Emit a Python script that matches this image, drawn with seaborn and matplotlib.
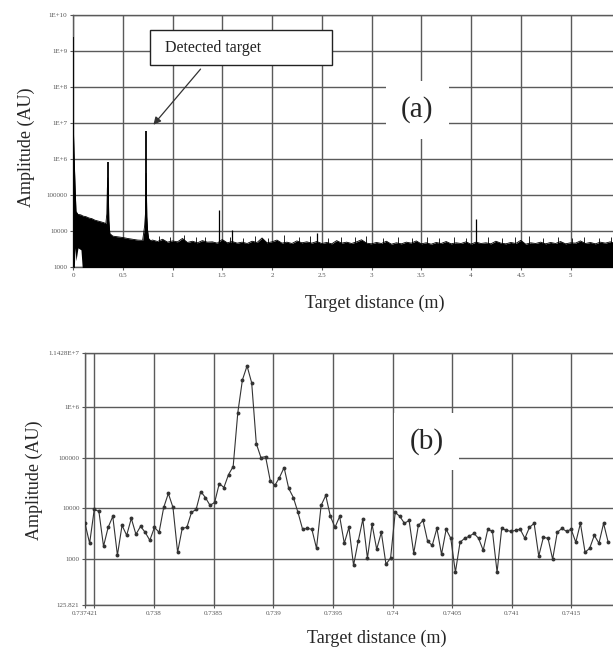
import numpy as np
import pandas as pd
import seaborn as sns
import matplotlib.pyplot as plt
from matplotlib.ticker import FixedLocator, FixedFormatter, NullLocator
from matplotlib.patches import Rectangle

# ---- panel (a): full range spectrum (upper envelope of the dense trace) ----
near_dist = [0.0, 0.005, 0.01, 0.02, 0.03, 0.05, 0.08, 0.1, 0.13, 0.16,
             0.19, 0.22, 0.25, 0.28, 0.31, 0.33, 0.34, 0.345, 0.35, 0.355,
             0.36, 0.37, 0.4, 0.45, 0.5, 0.55, 0.6, 0.65, 0.7, 0.72,
             0.728, 0.732, 0.735, 0.738, 0.742, 0.75, 0.76, 0.78]
near_amp = [1.2e7, 5e6, 1.5e6, 2e5, 3.5e4, 2.9e4, 2.8e4, 2.6e4, 2.5e4, 2.3e4,
            2.2e4, 2.0e4, 1.9e4, 1.8e4, 1.7e4, 1.6e4, 3e4, 1.5e5, 3e5, 1.2e5,
            2e4, 8500, 7200, 6900, 6600, 6200, 5900, 5600, 5500, 1.4e4,
            3e4, 1.5e5, 4e5, 1.2e5, 2.5e4, 1e4, 6200, 5400]
near_floor = [500, 500, 500, 3400, 1500, 3400, 3000, 500, 500, 500,
              500, 500, 500, 500, 500, 500, 500, 500, 500, 500,
              500, 500, 500, 500, 500, 500, 500, 500, 500, 500,
              500, 500, 500, 500, 500, 500, 500, 500]
far_start = 0.80
far_step = 0.05
far_amp = [5600, 5100, 5900, 4900, 5300, 5000, 6200, 4800, 5200, 4700,
           5400, 4900, 5000, 4600, 5800, 4700, 5100, 4600, 4900, 4500,
           5200, 4800, 6400, 4700, 5000, 5600, 4600, 4900, 4500, 5300,
           4700, 5000, 4600, 5100, 4500, 4800, 4400, 5400, 4600, 4900,
           4500, 5000, 5700, 4600, 4400, 4800, 4500, 5200, 4300, 4700,
           4400, 4900, 4600, 5300, 4400, 4700, 4300, 4800, 4500, 5100,
           4400, 4700, 4500, 5000, 4300, 4900, 4500, 4700, 4400, 5200,
           4600, 4400, 4800, 4500, 5500, 4300, 4700, 4500, 4900, 4400,
           4800, 4500, 5100, 4400, 4700, 4600, 5300, 4500, 4800, 4400,
           4900, 4600, 5000, 4500, 4700, 4400, 4800]
far_floor = 500
# strong peaks (0 m, 0.35 m, detected target) then smaller isolated spikes
spike_dist = [0.0, 0.35, 0.735, 1.47, 1.60, 2.45, 4.05]
spike_amp = [2.5e9, 8.3e5, 6.0e6, 3.85e4, 1.07e4, 8800, 2.15e4]
# fine "grass" on top of the noise floor
grass_dist = [0.86, 0.97, 1.12, 1.24, 1.33, 1.58, 1.71, 1.83, 1.96, 2.12,
              2.27, 2.38, 2.56, 2.69, 2.83, 2.94, 3.12, 3.27, 3.41, 3.56,
              3.68, 3.83, 3.95, 4.17, 4.31, 4.44, 4.58, 4.72, 4.87, 5.02,
              5.14, 5.29, 5.41]
grass_amp = [7200, 6800, 7500, 6600, 7000, 6900, 6400, 7300, 6500, 7800,
             6700, 7100, 6300, 6900, 6600, 7400, 6200, 6800, 6500, 7000,
             6300, 6700, 6400, 6900, 6200, 6600, 7100, 6400, 6800, 6300,
             7000, 6500, 6700]

a_xticks = [0, 0.5, 1, 1.5, 2, 2.5, 3, 3.5, 4, 4.5, 5, 5.5, 6]
a_xlabels = ["0", "0.5", "1", "1.5", "2", "2.5", "3", "3.5", "4", "4.5", "5", "", ""]
a_yticks = [1e3, 1e4, 1e5, 1e6, 1e7, 1e8, 1e9, 1e10]
a_ylabels = ["1000", "10000", "100000", "1E+6", "1E+7", "1E+8", "1E+9", "1E+10"]

# ---- panel (b): zoom around the detected target ----
b_start = 0.737421
b_step = 3.883e-5
b_amp = [5080, 2060, 9560, 8740, 1800, 4240, 6970, 1200, 4640, 2960,
         6370, 3090, 4440, 3380, 2360, 4240, 3380, 10470, 19700, 10470,
         1370, 4050, 4240, 8350, 9560, 21500, 16400, 11500, 13100, 30900,
         25800, 46400, 66600, 762000, 3380000, 6370000, 2960000, 188000, 100000, 104700,
         35400, 28300, 40500, 63700, 24700, 16400, 8350, 3880, 4050, 3880,
         1640, 11500, 18000, 6970, 4240, 6970, 2060, 4240, 760, 2250,
         6090, 1050, 4860, 1570, 3380, 800, 1050, 8350, 6970, 5080,
         5820, 1310, 4640, 5820, 2250, 1880, 4050, 1250, 3880, 2580,
         556, 2160, 2580, 2830, 3230, 2580, 1500, 3880, 3540, 556,
         4050, 3700, 3540, 3700, 3880, 2580, 4240, 5080, 1150, 2700,
         2580, 1000, 3380, 4050, 3540, 3880, 2160, 5080, 1370, 1640,
         2960, 2060, 5080, 2160]
b_xticks = [0.737421, 0.7375, 0.738, 0.7385, 0.739, 0.7395, 0.74, 0.7405, 0.741, 0.7415, 0.742]
b_xlabels = ["0.737421", "", "0.738", "0.7385", "0.739", "0.7395", "0.74", "0.7405", "0.741", "0.7415", ""]
b_yticks = [125.821, 1000, 10000, 100000, 1e6, 1.1428e7]
b_ylabels = ["125.821", "1000", "10000", "100000", "1E+6", "1.1428E+7"]

sns.set_theme(style="white")
plt.rcParams['font.family'] = ['Liberation Serif', 'DejaVu Serif']

far_dist = far_start + far_step * np.arange(len(far_amp))
spec = pd.DataFrame({
    "dist": np.concatenate([near_dist, far_dist]),
    "amp": np.concatenate([near_amp, far_amp]),
    "floor": np.concatenate([near_floor, np.full(len(far_amp), far_floor)]),
})
zoom = pd.DataFrame({"dist": b_start + b_step * np.arange(len(b_amp)), "amp": b_amp})

W, H = 613, 652
fig = plt.figure(figsize=(W / 100, H / 100), dpi=100)
fig.patch.set_facecolor("white")
ax_a = fig.add_axes([73 / W, 1 - 267 / H, 597 / W, 252 / H])
ax_b = fig.add_axes([85 / W, 1 - 605 / H, 546 / W, 252 / H])

grid_kw = dict(color="#5a5a5a", lw=1.0)

# panel (a)
ax_a.fill_between(spec["dist"], spec["floor"], spec["amp"], color="black", lw=0, zorder=3)
sns.lineplot(data=spec, x="dist", y="amp", ax=ax_a, color="black", lw=0.6, zorder=3)
ax_a.vlines(spike_dist[:3], 500, spike_amp[:3], color="black", lw=1.3, zorder=3)
ax_a.vlines(spike_dist[3:], 500, spike_amp[3:], color="black", lw=0.9, zorder=3)
ax_a.vlines(grass_dist, 500, grass_amp, color="black", lw=0.6, zorder=3)
ax_a.set_yscale("log")
ax_a.set_xlim(0, 6)
ax_a.set_ylim(1e3, 1e10)
ax_a.xaxis.set_major_locator(FixedLocator(a_xticks))
ax_a.xaxis.set_major_formatter(FixedFormatter(a_xlabels))
ax_a.yaxis.set_major_locator(FixedLocator(a_yticks))
ax_a.yaxis.set_major_formatter(FixedFormatter(a_ylabels))

# panel (b)
sns.lineplot(data=zoom, x="dist", y="amp", ax=ax_b, color="#333333", lw=0.8,
             marker="o", markersize=2.8, markeredgewidth=0, zorder=3)
ax_b.set_yscale("log")
ax_b.set_xlim(0.737421, 0.742)
ax_b.set_ylim(125.821, 1.1428e7)
ax_b.xaxis.set_major_locator(FixedLocator(b_xticks))
ax_b.xaxis.set_major_formatter(FixedFormatter(b_xlabels))
ax_b.yaxis.set_major_locator(FixedLocator(b_yticks))
ax_b.yaxis.set_major_formatter(FixedFormatter(b_ylabels))

for ax in (ax_a, ax_b):
    ax.set_xlabel("")
    ax.set_ylabel("")
    ax.xaxis.set_minor_locator(NullLocator())
    ax.yaxis.set_minor_locator(NullLocator())
    ax.grid(True, which="major", **grid_kw)
    ax.set_axisbelow(True)
    for s in ax.spines.values():
        s.set_color("#5a5a5a")
        s.set_linewidth(1.0)
    ax.spines["right"].set_visible(False)
    ax.tick_params(axis="both", labelsize=5, colors="#555555", length=2.5, width=0.8,
                   pad=1.5, left=True, bottom=True, direction="out")

# panel labels with white boxes over the grid
ax_a.text(3.46, 2.3e7, "(a)", fontsize=21, ha="center", va="center", zorder=5,
          bbox=dict(fc="white", ec="none", pad=11))
ax_b.text(0.740285, 2.1e5, "(b)", fontsize=21, ha="center", va="center", zorder=5,
          bbox=dict(fc="white", ec="none", pad=11))

# callout box and arrow
fig.patches.append(Rectangle((150 / W, 1 - 65 / H), 182 / W, 35 / H, transform=fig.transFigure,
                             fc="white", ec="#222222", lw=1.0, zorder=6))
fig.text(165 / W, 1 - 48 / H, "Detected target", fontsize=11.5, ha="left", va="center",
         color="#222222", zorder=7)
ax_a.annotate("", xy=(0.79, 7.8e6), xytext=(1.30, 3.6e8), zorder=6,
              arrowprops=dict(arrowstyle="-|>", color="#333333", lw=0.9, mutation_scale=11))

# axis titles
fig.text(375 / W, 1 - 303 / H, "Target distance (m)", fontsize=13, ha="center", va="center")
fig.text(377 / W, 1 - 638 / H, "Target distance (m)", fontsize=13, ha="center", va="center")
fig.text(26 / W, 1 - 147 / H, "Amplitude (AU)", fontsize=13, rotation=90, ha="center", va="center")
fig.text(34 / W, 1 - 480 / H, "Amplitude (AU)", fontsize=13, rotation=90, ha="center", va="center")

fig.savefig("out.png", dpi=100, facecolor="white")
